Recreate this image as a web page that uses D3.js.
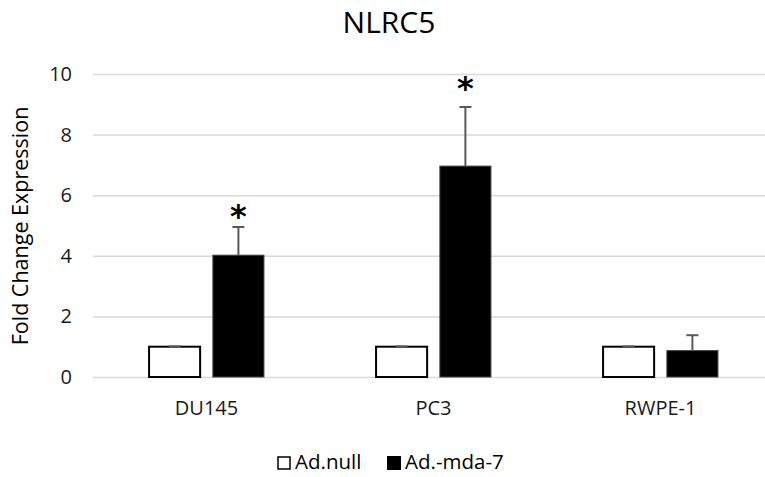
<!DOCTYPE html>
<html>
<head>
<meta charset="utf-8">
<script src="https://cdn.jsdelivr.net/npm/d3@7"></script>
<style>
  html, body { margin: 0; padding: 0; background: #fff; }
  svg { display: block; font-family: "Open Sans", "Noto Sans", sans-serif; }
</style>
</head>
<body>
<script>
// NLRC5 fold change by cell line and treatment
const categories = ["DU145", "PC3", "RWPE-1"];
const series = ["Ad.null", "Ad.-mda-7"];
const nullValues = [1, 1, 1];
const nullErrors = [0.01, 0.01, 0.01];
const mdaValues = [4.02, 6.96, 0.87];
const mdaErrors = [0.93, 1.95, 0.51];
const yTicks = [0, 2, 4, 6, 8, 10];
// significance markers: category and height (in fold-change units)
const starCategories = ["DU145", "PC3"];
const starLevels = [5.6, 9.82];

const W = 765, H = 477;
const svg = d3.select("body").append("svg").attr("width", W).attr("height", H);

const y = d3.scaleLinear().domain([0, 10]).range([377, 74]);
const x0 = d3.scaleBand().domain(categories).range([93, 774]);
const bw = x0.bandwidth();
const x1 = d3.scaleBand().domain(series)
  .range([bw * 0.247, bw * 0.753]).paddingInner(0.2);

// gridlines + tick labels
const yAxis = d3.axisLeft(y).tickValues(yTicks).tickSize(-(774 - 93)).tickPadding(21);
const ga = svg.append("g").attr("transform", "translate(93,0)").call(yAxis);
ga.select(".domain").remove();
ga.selectAll(".tick line").attr("stroke", "#d9d9d9").attr("stroke-width", 1.5);
ga.selectAll(".tick text").attr("fill", "#1a1a1a").style("font-size", "20px")
  .style("font-family", "'Open Sans', sans-serif");

const colors = { "Ad.null": "#ffffff", "Ad.-mda-7": "#000000" };
const rows = categories.map((c, i) => ({
  cat: c,
  bars: [
    { s: "Ad.null", v: nullValues[i], e: nullErrors[i] },
    { s: "Ad.-mda-7", v: mdaValues[i], e: mdaErrors[i] }
  ]
}));

const groups = svg.append("g").selectAll("g").data(rows).join("g")
  .attr("transform", d => `translate(${x0(d.cat)},0)`);

groups.selectAll("rect").data(d => d.bars).join("rect")
  .attr("x", d => x1(d.s))
  .attr("y", d => y(d.v))
  .attr("width", x1.bandwidth())
  .attr("height", d => y(0) - y(d.v))
  .attr("fill", d => colors[d.s])
  .attr("stroke", d => d.s === "Ad.null" ? "#000" : "#404040")
  .attr("stroke-width", d => d.s === "Ad.null" ? 2 : 1);

// upward error bars
const eb = groups.selectAll("g.err").data(d => d.bars).join("g").attr("class", "err")
  .attr("stroke", "#595959").attr("stroke-width", 2);
eb.append("line")
  .attr("x1", d => x1(d.s) + x1.bandwidth() / 2)
  .attr("x2", d => x1(d.s) + x1.bandwidth() / 2)
  .attr("y1", d => y(d.v))
  .attr("y2", d => y(d.v + d.e));
eb.append("line")
  .attr("x1", d => x1(d.s) + x1.bandwidth() / 2 - 6)
  .attr("x2", d => x1(d.s) + x1.bandwidth() / 2 + 6)
  .attr("y1", d => y(d.v + d.e))
  .attr("y2", d => y(d.v + d.e));

// significance asterisks over the Ad.-mda-7 bars
svg.append("g").selectAll("text").data(starCategories).join("text")
  .attr("x", c => x0(c) + x1("Ad.-mda-7") + x1.bandwidth() / 2)
  .attr("y", (c, i) => y(starLevels[i]))
  .attr("text-anchor", "middle")
  .attr("dy", "0.62em")
  .style("font-size", "32px")
  .style("font-weight", "bold")
  .style("font-family", "'DejaVu Sans', sans-serif")
  .attr("fill", "#000")
  .text("*");

// category labels
svg.append("g").selectAll("text").data(categories).join("text")
  .attr("x", c => x0(c) + bw / 2)
  .attr("y", 415)
  .attr("text-anchor", "middle")
  .attr("fill", "#1a1a1a")
  .style("font-size", "20px")
  .text(c => c);

// title
svg.append("text").attr("x", 389).attr("y", 33).attr("text-anchor", "middle")
  .attr("fill", "#000").style("font-size", "30px").text("NLRC5");

// y axis title
svg.append("text")
  .attr("transform", "translate(28,226) rotate(-90)")
  .attr("text-anchor", "middle")
  .attr("fill", "#000")
  .style("font-size", "21.5px")
  .text("Fold Change Expression");

// legend
const legend = svg.append("g");
const legendX = [277, 387];
series.forEach((s, i) => {
  legend.append("rect")
    .attr("x", legendX[i] + (i === 0 ? 1 : 0)).attr("y", 456 + (i === 0 ? 1 : 0))
    .attr("width", i === 0 ? 12 : 14).attr("height", i === 0 ? 12 : 14)
    .attr("fill", colors[s])
    .attr("stroke", "#000").attr("stroke-width", i === 0 ? 1.5 : 0);
  legend.append("text")
    .attr("x", legendX[i] + 18).attr("y", 469)
    .attr("fill", "#000")
    .style("font-size", "20.5px")
    .text(s);
});
</script>
</body>
</html>
